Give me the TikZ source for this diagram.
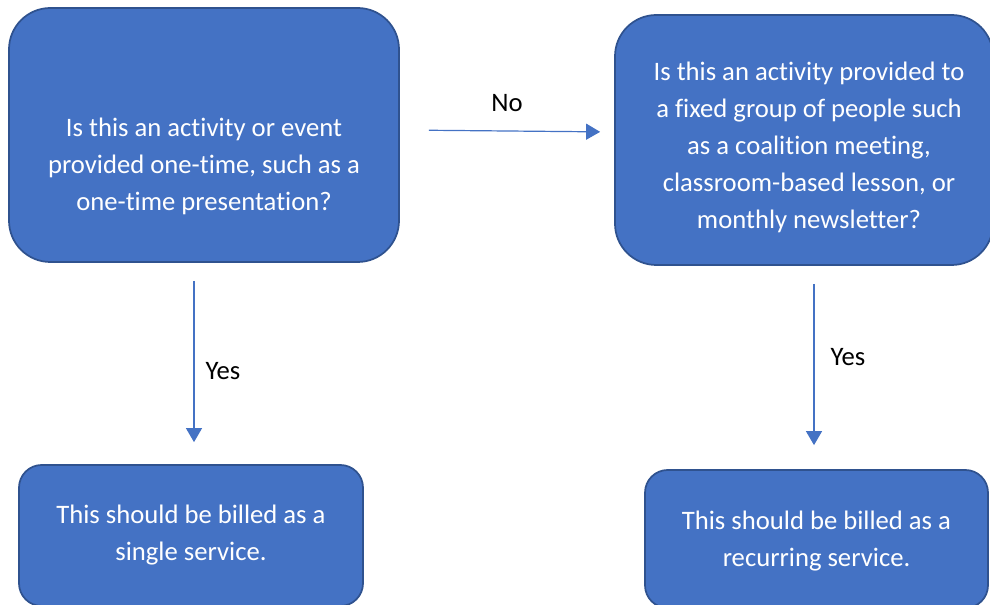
\documentclass[tikz,border=0pt]{standalone}
\usepackage{fontspec}
\setmainfont{Carlito}[Ligatures=NoCommon]
\usepackage{tikz}
\usetikzlibrary{arrows.meta,positioning}
\definecolor{boxblue}{HTML}{4472C4}
\definecolor{edgeblue}{HTML}{2F528F}

\begin{document}
\begin{tikzpicture}[
x=0.75pt,y=-0.75pt,
box/.style={draw=edgeblue,fill=boxblue,line width=1.3pt,rounded corners=31pt,inner sep=0pt},
smallbox/.style={box,rounded corners=17pt},
txt/.style={text=white,align=center,font=\fontsize{20}{27.75}\selectfont},
arr/.style={-{Triangle[length=10.5pt,width=12pt]},boxblue,line width=0.9pt},
lbl/.style={inner sep=0pt,text=black,font=\fontsize{20}{24}\selectfont}
]
\useasboundingbox (0,0) rectangle (990,605);
% question boxes
\node[box,minimum width=292.5pt,minimum height=190.5pt] (q1) at (204,135) {};
\node[txt] (q1text) at ([yshift=-23.25pt]q1.center) {Is this an activity or event\\provided one-time, such as a\\one-time presentation?};
\node[box,minimum width=283.5pt,minimum height=187.5pt] (q2) at (804,140) {};
\node[txt] (q2text) at ([xshift=3.75pt,yshift=-5.25pt]q2.center) {Is this an activity provided to\\a fixed group of people such\\as a coalition meeting,\\classroom-based lesson, or\\monthly newsletter?};
% result boxes
\node[smallbox,minimum width=258pt,minimum height=105.75pt] (r1) at (191,535.5) {};
\node[txt] (r1text) at (r1.center) {This should be billed as a\\single service.};
\node[smallbox,minimum width=257.25pt,minimum height=103.5pt] (r2) at (816.5,539) {};
\node[txt] (r2text) at ([yshift=-1.5pt]r2.center) {This should be billed as a\\recurring service.};
% connectors
\draw[arr,shorten <=21.75pt,shorten >=10.5pt] ([yshift=3.75pt]q1.east) -- node[lbl,above=14.25pt] (no) {No} ([yshift=6pt]q2.west);
\draw[arr,shorten <=13.5pt,shorten >=16.5pt] ([xshift=-7.5pt]q1.south) -- node[lbl,right=8.25pt,yshift=-5.6pt] (yes1) {Yes} ([xshift=2.25pt]r1.north);
\draw[arr,shorten <=13.5pt,shorten >=18pt] ([xshift=7.5pt]q2.south) -- node[lbl,right=12pt,yshift=7.5pt] (yes2) {Yes} ([xshift=-1.875pt]r2.north);
\end{tikzpicture}
\end{document}
